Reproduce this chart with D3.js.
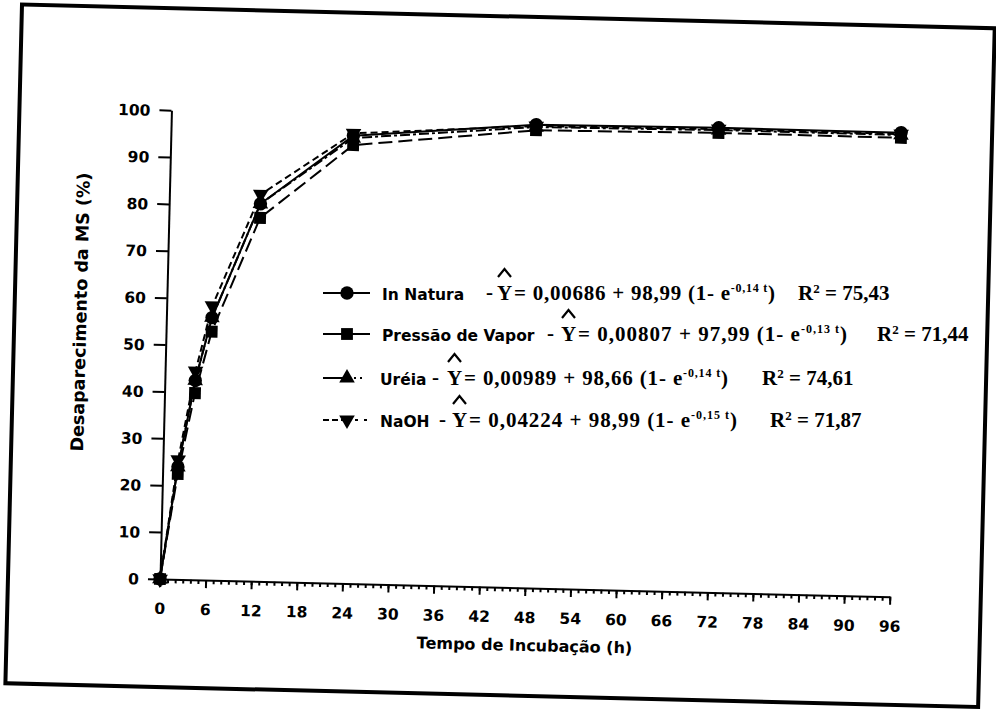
<!DOCTYPE html>
<html lang="pt">
<head>
<meta charset="UTF-8"/>
<title>Desaparecimento da MS</title>
<script src="https://d3js.org/d3.v7.min.js"></script>
<style>
  body { margin: 0; background: #fff; }
  .tick text { font-family: "DejaVu Sans", sans-serif; font-weight: bold; font-size: 15.5px; fill: #000; }
  .domain, .tick line { stroke: #000; stroke-width: 2px; }
</style>
</head>
<body>
<script>
    // data
    var times = [0, 2, 4, 6, 12, 24, 48, 72, 96];
    var inNatura = [0, 24, 42.5, 56, 80.5, 95.5, 98.8, 99.1, 99.0];
    var pressaoVapor = [0, 22.5, 39.8, 53, 77.5, 93.5, 97.6, 98.0, 97.9];
    var ureia = [0, 24, 42.5, 56, 80.5, 95, 98.3, 98.6, 98.5];
    var naoh = [0, 25.5, 44.5, 58.5, 82.5, 96, 98.5, 98.8, 98.7];

    var seriesNames = ["In Natura", "Pressão de Vapor", "Uréia", "NaOH"];
    var eqMain = ["= 0,00686 + 98,99 (1- e", "= 0,00807 + 97,99 (1- e",
                  "= 0,00989 + 98,66 (1- e", "= 0,04224 + 98,99 (1- e"];
    var eqExp = ["-0,14 t", "-0,13 t", "-0,14 t", "-0,15 t"];
    var r2Values = ["75,43", "71,44", "74,61", "71,87"];

    var xTicks = d3.range(0, 97, 6);
    var xMinor = d3.range(0, 97, 1);
    var yTicks = d3.range(0, 101, 10);

    var w = 996, h = 711;
    var plotW = 730, plotH = 469;
    var tilt = 1.4;   // the scanned page is slightly rotated

    var svg = d3.select("body").append("svg")
        .attr("width", w)
        .attr("height", h);

    var g = svg.append("g")
        .attr("transform", "translate(160,579) rotate(" + tilt + ")");

    // page frame
    g.append("rect")
        .attr("x", -152).attr("y", -571)
        .attr("width", 973).attr("height", 679)
        .attr("fill", "none")
        .attr("stroke", "#000")
        .attr("stroke-width", 4);

    var x = d3.scaleLinear().domain([0, 96]).range([0, plotW]);
    var y = d3.scaleLinear().domain([0, 100]).range([0, -plotH]);

    // minor x ticks
    g.append("g")
        .call(d3.axisBottom(x).tickValues(xMinor).tickSize(4).tickSizeOuter(0).tickFormat(""))
        .call(function(s) { s.select(".domain").remove(); });

    g.append("g")
        .call(d3.axisBottom(x).tickValues(xTicks).tickSize(8).tickSizeOuter(0).tickPadding(16));

    g.append("g")
        .call(d3.axisLeft(y).tickValues(yTicks).tickSize(12).tickSizeOuter(0).tickPadding(9))
        .selectAll(".tick text").attr("dy", "0.36em");

    g.append("text")
        .attr("x", x(48) + 1)
        .attr("y", 63)
        .attr("text-anchor", "middle")
        .attr("font-family", "DejaVu Sans, sans-serif")
        .attr("font-weight", "bold")
        .attr("font-size", 16)
        .text("Tempo de Incubação (h)");

    g.append("text")
        .attr("transform", "translate(-80,-265) rotate(-90)")
        .attr("text-anchor", "middle")
        .attr("font-family", "DejaVu Sans, sans-serif")
        .attr("font-weight", "bold")
        .attr("font-size", 17.5)
        .text("Desaparecimento da MS (%)");

    var allSeries = [inNatura, pressaoVapor, ureia, naoh];
    var dashes = [null, "14,6", "10,3,3,3", "7,4"];
    var legendDashes = [null, null, "28,3,2,4,2", "6,3,6,3,3,3,2"];
    var symbols = [
        { type: d3.symbolCircle, size: 140, rot: 0 },
        { type: d3.symbolSquare, size: 140, rot: 0 },
        { type: d3.symbolTriangle, size: 105, rot: 0 },
        { type: d3.symbolTriangle, size: 105, rot: 180 }
    ];

    var line = d3.line()
        .x(function(d, i) { return x(times[i]); })
        .y(function(d) { return y(d); });

    allSeries.forEach(function(vals, k) {
        g.append("path")
            .datum(vals)
            .attr("d", line)
            .attr("fill", "none")
            .attr("stroke", "#000")
            .attr("stroke-width", 2)
            .attr("stroke-dasharray", dashes[k]);
    });

    allSeries.forEach(function(vals, k) {
        g.selectAll(null)
            .data(vals)
            .enter()
            .append("path")
            .attr("d", d3.symbol().type(symbols[k].type).size(symbols[k].size))
            .attr("transform", function(d, i) {
                return "translate(" + x(times[i]) + "," + y(d) + ") rotate(" + symbols[k].rot + ")";
            })
            .attr("fill", "#000");
    });

    // legend with the fitted equations (not tilted in the scan)
    var rowY = [293, 334, 378, 420];
    var textX = [382, 382, 380, 380];
    var dashX = [486, 547, 432, 439];
    var yX = [497, 561, 447, 452];
    var eqEnd = [775, 847, 728, 737];
    var r2X = [798, 877, 762, 770];

    var lg = svg.append("g");
    var serif = "Liberation Serif, Times New Roman, serif";

    seriesNames.forEach(function(name, k) {
        var cy = rowY[k];
        var base = cy + 7;
        lg.append("line")
            .attr("x1", 323).attr("x2", 370)
            .attr("y1", cy).attr("y2", cy)
            .attr("stroke", "#000")
            .attr("stroke-width", 2)
            .attr("stroke-dasharray", legendDashes[k]);
        lg.append("path")
            .attr("d", d3.symbol().type(symbols[k].type).size(symbols[k].size))
            .attr("transform", "translate(347," + cy + ") rotate(" + symbols[k].rot + ")")
            .attr("fill", "#000");
        lg.append("text")
            .attr("x", textX[k]).attr("y", base)
            .attr("font-family", "DejaVu Sans, sans-serif")
            .attr("font-weight", "bold")
            .attr("font-size", 15.5)
            .text(name);

        lg.append("text")
            .attr("x", dashX[k]).attr("y", base - 1)
            .attr("font-family", serif).attr("font-weight", "bold").attr("font-size", 21)
            .text("-");
        lg.append("text")
            .attr("x", yX[k]).attr("y", base)
            .attr("font-family", serif).attr("font-weight", "bold").attr("font-size", 21)
            .text("Y");
        // the hat accent over Y
        var hx = yX[k] + 7.5;
        lg.append("path")
            .attr("d", d3.line()([[hx - 6.5, base - 23], [hx, base - 31], [hx + 6.5, base - 23]]))
            .attr("fill", "none")
            .attr("stroke", "#000")
            .attr("stroke-width", 2.2);

        var eq = lg.append("text")
            .attr("x", yX[k] + 17).attr("y", base)
            .attr("font-family", serif).attr("font-weight", "bold").attr("font-size", 21)
            .attr("textLength", eqEnd[k] - yX[k] - 17)
            .attr("lengthAdjust", "spacing");
        eq.append("tspan").text(eqMain[k]);
        eq.append("tspan").attr("dy", -8).attr("font-size", 12).text(eqExp[k]);
        eq.append("tspan").attr("dy", 8).text(")");

        var r2 = lg.append("text")
            .attr("x", r2X[k]).attr("y", base)
            .attr("font-family", serif).attr("font-weight", "bold").attr("font-size", 21);
        r2.append("tspan").text("R");
        r2.append("tspan").attr("dy", -7).attr("font-size", 13).text("2");
        r2.append("tspan").attr("dy", 7).text(" = " + r2Values[k]);
    });
</script>
</body>
</html>
